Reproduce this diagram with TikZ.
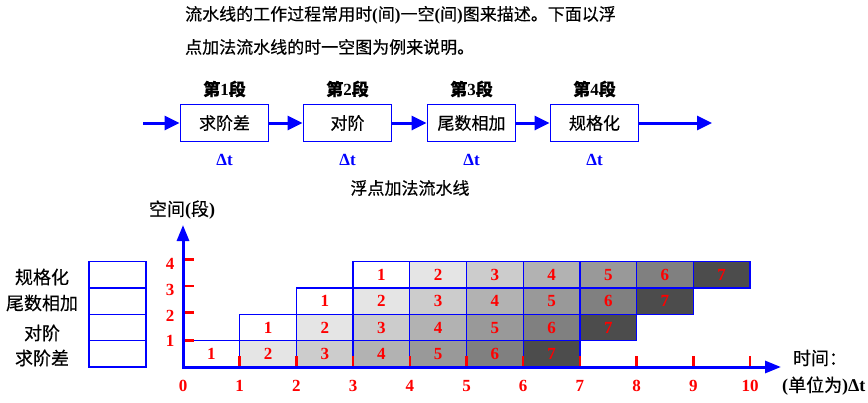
\documentclass[tikz,border=0pt]{standalone}
\usepackage{fontspec}
\setmainfont{Liberation Serif}
\newfontfamily\cjk{Noto Sans CJK SC}[FakeBold=0.4]
\usetikzlibrary{arrows.meta}
\newcommand{\rp}[1]{{\rmfamily\bfseries #1}}
\begin{document}
\begin{tikzpicture}[x=1pt,y=-1pt,
  stagebox/.style={draw=blue,line width=1.8pt,minimum width=88pt,minimum height=37pt,inner sep=0pt,font=\cjk\fontsize{17}{17}\selectfont},
  cell/.style={draw=blue,line width=1.3pt,minimum width=56.7pt,minimum height=26.3pt,inner sep=0pt,text=red,font=\bfseries\fontsize{17}{17}\selectfont},
  tabcell/.style={draw=blue,line width=1.3pt,minimum width=57pt,minimum height=26.3pt,inner sep=0pt},
  flow/.style={blue,line width=3pt,-{Triangle[length=15pt,width=14pt]}},
  axis/.style={blue,line width=3pt,{Triangle[length=16pt,width=12pt]}-{Triangle[length=16pt,width=12pt]}},
  tick/.style={red,line width=2.5pt},
  cjktext/.style={font=\cjk\fontsize{17}{17}\selectfont,inner sep=0pt},
  lbl/.style={font=\cjk\fontsize{18}{18}\selectfont,inner sep=0pt},
  stagelbl/.style={font=\fontsize{17}{17}\selectfont\bfseries,inner sep=0pt},
  dt/.style={font=\fontsize{17}{17}\selectfont\bfseries,text=blue,inner sep=0pt},
  num/.style={font=\fontsize{17}{17}\selectfont\bfseries,text=red,inner sep=0pt}
]
\useasboundingbox (0,0) rectangle (868,402);
% intro text
\node[cjktext,anchor=west] (t1) at (185,15) {流水线的工作过程常用时\rp{(}间\rp{)}一空\rp{(}间\rp{)}图来描述。下面以浮};
\node[cjktext,anchor=west] (t2) at (185,47) {点加法流水线的时一空图为例来说明。};
% pipeline
\node[stagebox] (b1) at (224.5,123) {求阶差};
\node[stagebox] (b2) at (347.5,123) {对阶};
\node[stagebox] (b3) at (471.5,123) {尾数相加};
\node[stagebox] (b4) at (594.5,123) {规格化};
\coordinate (in) at (143,123);
\coordinate (out) at (712,123);
\draw[flow] (in) -- (b1.west);
\draw[flow] (b1.east) -- (b2.west);
\draw[flow] (b2.east) -- (b3.west);
\draw[flow] (b3.east) -- (b4.west);
\draw[flow] (b4.east) -- (out);
\foreach \i/\x in {1/224.5,2/347.5,3/471.5,4/594.5}{
  \node[stagelbl] (s\i) at (\x,89) {{\cjk 第}\i{\cjk 段}};
  \node[dt] (d\i) at (\x,160) {Δt};
}
\node[cjktext] (cap) at (410,188) {浮点加法流水线};
% space-time diagram cells
\foreach \s in {1,...,4}{
  \foreach \j in {1,...,7}{
    \pgfmathsetmacro\xc{183+(\s+\j-1.5)*56.7}
    \pgfmathsetmacro\yc{367-(\s-0.5)*26.3}
    \pgfmathtruncatemacro\g{\j==7 ? 70 : 10*(\j-1)}
    \node[cell,fill=black!\g] (c\s\j) at (\xc,\yc) {\j};
  }
}
% left table
\foreach \s/\name/\ly in {1/求阶差/358,2/对阶/333,3/尾数相加/303,4/规格化/277}{
  \pgfmathsetmacro\yc{367-(\s-0.5)*26.3}
  \node[tabcell] (L\s) at (117.5,\yc) {};
  \node[lbl] (n\s) at (42,\ly) {\name};
}
% axes
\coordinate (O) at (183,367);
\coordinate (xend) at (781,367);
\coordinate (yend) at (183,225);
\draw[axis] (yend) -- (O) -- (xend);
% ticks
\foreach \t in {1,...,10}{
  \draw[tick] (183+\t*56.7,356) -- (183+\t*56.7,366);
}
\foreach \s/\ly in {1/340.7,2/312.7,3/286,4/259.3}{
  \draw[tick] (184.5,\ly) -- (194,\ly);
}
% axis numbers
\foreach \t in {0,...,10}{
  \node[num] (x\t) at (183+\t*56.7,386) {\t};
}
\foreach \s/\ly in {1/341,2/316,3/290,4/264}{
  \node[num] (y\s) at (170,\ly) {\s};
}
\node[lbl] (ylab) at (182,210) {空间\rp{(}段\rp{)}};
\node[lbl] (xlab1) at (820,358) {时间：};
\node[lbl,anchor=west] (xlab2) at (782,386) {\rp{(}单位为\rp{)Δt}};
\end{tikzpicture}
\end{document}
